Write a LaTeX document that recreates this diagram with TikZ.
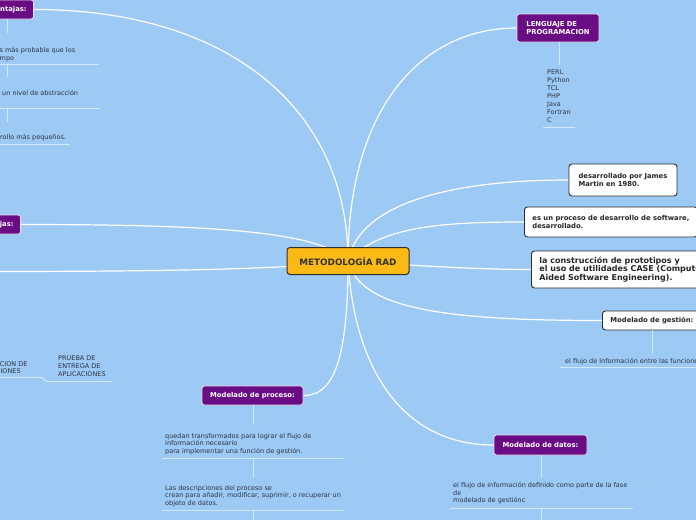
\documentclass[tikz,border=0pt]{standalone}
\usepackage{fontspec}
\setmainfont{DejaVu Sans}
\usetikzlibrary{backgrounds}
\definecolor{bg}{RGB}{156,202,245}
\definecolor{purp}{RGB}{106,13,133}
\definecolor{orng}{RGB}{253,185,21}
\definecolor{txt}{RGB}{45,50,65}
\definecolor{edge}{RGB}{45,45,45}
\newcommand\mmtext[1]{\begin{tabular}[t]{@{}l@{}}#1\end{tabular}}
\begin{document}
\begin{tikzpicture}[x=1pt,y=-1pt,
  conn/.style={white, line width=1.2pt},
  stem/.style={white, opacity=0.55, line width=1pt},
  item/.style={anchor=base west, inner sep=0, text=txt, font=\fontsize{6.5}{7.8}\selectfont},
  pbox/.style={draw=white!85!purp, fill=purp, rounded corners=2.5pt, line width=0.8pt, text=white, font=\fontsize{6.8}{8}\selectfont\bfseries, inner ysep=0, align=left},
  wbox/.style={draw=edge, fill=white, rounded corners=3pt, line width=0.9pt, text=black!85, font=\fontsize{6.8}{8}\selectfont\bfseries, inner ysep=0, align=left},
]
\useasboundingbox (0,0) rectangle (696,520);

% nodes (boxes)
\node[draw=edge, fill=orng, rounded corners=3pt, line width=1pt, minimum width=122, minimum height=27, inner sep=0, font=\fontsize{8.8}{10}\selectfont\bfseries, text=black!80] (c) at (348,261) {METODOLOGÍA RAD};
\node[pbox, anchor=east, inner xsep=7, minimum height=19] (vent) at (34,9.5) {Ventajas:};
\node[pbox, anchor=east, inner xsep=7, minimum height=19] (desv) at (21,224.5) {Desventajas:};
\node[pbox, minimum width=82, minimum height=28] (leng) at (558,28) {LENGUAJE DE\\PROGRAMACION};
\node[wbox, minimum width=108, minimum height=32] (jam) at (623,180) {desarrollado por James\\Martin en 1980.};
\node[wbox, anchor=west, inner xsep=8, minimum height=30] (proc) at (524,222) {es un proceso de desarrollo de software,\\desarrollado.};
\node[wbox, anchor=west, inner xsep=8, minimum height=37, font=\fontsize{8}{8.4}\selectfont\bfseries] (cons) at (531,269.5) {la construcción de prototipos y\\el uso de utilidades CASE (Computer\\Aided Software Engineering).};
\node[wbox, anchor=west, inner xsep=8, minimum height=19] (gest) at (602,320.5) {Modelado de gestión:};
\node[pbox, minimum width=101, minimum height=19] (pmod) at (252.5,395.5) {Modelado de proceso:};
\node[pbox, minimum width=93, minimum height=20] (dmod) at (540.5,445) {Modelado de datos:};
\coordinate (offleft) at (-10,271.5);

% connectors
\begin{scope}[on background layer]
\fill[bg] (0,0) rectangle (696,520);
\draw[conn] (c.center) .. controls (348,110) and (230,9.5) .. (vent.east);
\draw[conn] (c.center) .. controls (320,230) and (200,224.5) .. (desv.east);
\draw[conn] (c.center) .. controls (300,268) and (200,271.5) .. (offleft);
\draw[conn] (c.center) .. controls (348,110) and (420,28) .. (leng.west);
\draw[conn] (c.center) .. controls (360,200) and (460,180) .. (jam.west);
\draw[conn] (c.center) .. controls (380,225) and (450,222) .. (proc.west);
\draw[conn] (c.center) .. controls (420,266) and (480,269.5) .. (cons.west);
\draw[conn] (c.center) .. controls (360,310) and (450,320.5) .. (gest.west);
\draw[conn] (c.center) .. controls (348,370) and (330,395.5) .. (pmod.east);
\draw[conn] (c.center) .. controls (355,380) and (410,445) .. (dmod.west);
\end{scope}

% Ventajas items
\draw[stem] (7,19) -- (7,33);
\node[item] (v1) at (-0.5,52.2) {\mmtext{s más probable que los\\mpo}};
\draw[stem] (0,64) -- (99,64);
\draw[stem] (7,65) -- (7,77);
\node[item] (v2) at (2,95.2) {un nivel de abstracción};
\draw[stem] (0,108) -- (100,108);
\draw[stem] (7,109) -- (7,122);
\node[item] (v3) at (0,139.2) {rollo más pequeños.};
\draw[stem] (0,144) -- (70,144);

% Lenguaje list
\draw[stem] (559,42) -- (559,65);
\node[item, font=\fontsize{6.5}{8}\selectfont] (lst) at (547,74.2) {\mmtext{PERL\\Python\\TCL\\PHP\\Java\\Fortran\\C}};
\draw[stem] (543,127) -- (575,127);

% Generacion / Prueba
\node[item] (gen) at (-27,366) {\mmtext{GENERACION DE\\APLICACIONES}};
\node[item] (prue) at (58,360.5) {\mmtext{PRUEBA DE\\ENTREGA DE\\APLICACIONES}};
\draw[stem] (-5,377.3) -- (40,377.3) .. controls (44,377.3) and (44,381.5) .. (48,381.5) -- (112,381.5);

% Modelado de gestion
\draw[stem] (652,330) -- (652,353);
\node[item] (g1) at (565,363.2) {el flujo de información entre las funciones};
\draw[stem] (560,367) -- (697,367);

% Modelado de proceso
\draw[stem] (253,405) -- (253,425);
\node[item] (p1) at (165,438) {\mmtext{quedan transformados para lograr el flujo de\\información necesario\\para implementar una función de gestión.}};
\draw[stem] (162,458) -- (344,458);
\draw[stem] (253,458) -- (253,478);
\node[item] (p2) at (165,490) {\mmtext{Las descripciones del proceso se\\crean para añadir, modificar, suprimir, o recuperar un\\objeto de datos.}};
\draw[stem] (162,510) -- (344,510);
\draw[stem] (253,510) -- (253,521);

% Modelado de datos
\draw[stem] (541,455) -- (541,478);
\node[item] (d1) at (453,487.2) {\mmtext{el flujo de información definido como parte de la fase\\de\\modelado de gestiónc}};
\draw[stem] (450,508) -- (633,508);
\draw[stem] (541,508) -- (541,521);
\end{tikzpicture}
\end{document}
